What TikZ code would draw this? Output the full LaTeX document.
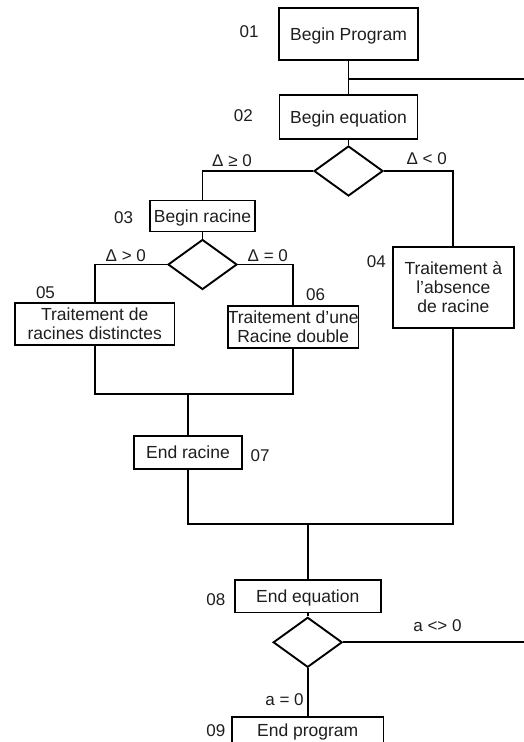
\documentclass[tikz,border=0pt]{standalone}
\usepackage{fontspec}
\setmainfont{Liberation Sans}
\usetikzlibrary{shapes.geometric}
\definecolor{txt}{RGB}{30,30,30}
\begin{document}
\begin{tikzpicture}[x=1pt,y=-1pt,
  box/.style={draw, rectangle, line width=1.9pt, inner sep=0pt, align=center,
    text=txt, font=\fontsize{17.5}{19.3}\selectfont},
  onebox/.style={box, text height=12.5pt, text depth=0pt},
  cond/.style={draw, diamond, line width=1.9pt, inner sep=0pt,
    minimum width=69pt, minimum height=50pt},
  num/.style={inner sep=0pt, text=txt, font=\fontsize{17}{19}\selectfont,
    text height=12.2pt, text depth=0pt},
  link/.style={line width=1.9pt}]
\clip (0,0) rectangle (524,742);
\fill[white] (0,0) rectangle (524,742);

% main column
\node[onebox, minimum width=139pt, minimum height=52pt] (bp) at (348.5,34.3) {Begin Program};
\node[onebox, minimum width=138pt, minimum height=44pt] (be) at (348.5,117) {Begin equation};
\node[cond] (d1) at (348.5,171) {};

% delta >= 0 branch
\node[onebox, minimum width=105pt, minimum height=31pt] (br) at (202.5,216) {Begin racine};
\node[cond] (d2) at (202.5,264.5) {};
\node[box, minimum width=159.5pt, minimum height=42pt] (t05) at (94.7,324) {Traitement de\\racines distinctes};
\node[box, minimum width=130pt, minimum height=42pt] (t06) at (293.2,326.9) {Traitement d’une\\Racine double};
\node[onebox, minimum width=108.5pt, minimum height=33.5pt] (er) at (188,452.5) {End racine};

% delta < 0 branch
\node[box, minimum width=121.5pt, minimum height=81.5pt] (t04) at (453.3,287.3) {Traitement à\\l’absence\\de racine};

% end of equation and program
\node[onebox, minimum width=146pt, minimum height=32.5pt] (ee) at (307.7,596.2) {End equation};
\node[cond] (d3) at (307.7,642.3) {};
\node[onebox, text depth=4pt, minimum width=151.5pt, minimum height=32pt] (ep) at (307.7,732.7) {End program};

% junction points and free ends
\coordinate (j1) at (348.5,79.3);
\coordinate (e1) at (530,79.3);
\coordinate (m1) at (188,394.3);
\coordinate (m2) at (307.7,524.3);
\coordinate (e2) at (530,642.3);

% connectors
\draw[link] (bp) -- (be);
\draw[link] (j1) -- (e1);
\draw[link] (be) -- (d1);
\draw[link] (d1.west) -| (br.north);
\draw[link] (d1.east) -| (t04.north);
\draw[link] (br) -- (d2);
\draw[link] (d2.west) -| (t05.north);
\draw[link] (d2.east) -| (t06.north);
\draw[link] (t05.south) |- (m1) -| (t06.south);
\draw[link] (m1) -- (er.north);
\draw[link] (er.south) |- (m2) -| (t04.south);
\draw[link] (m2) -- (ee.north);
\draw[link] (ee) -- (d3);
\draw[link] (d3.east) -- (e2);
\draw[link] (d3) -- (ep);

% step numbers and branch conditions
\node[num] (n01) at (249,31.8) {01};
\node[num] (n02) at (243.3,115.3) {02};
\node[num] (n03) at (123.7,217) {03};
\node[num] (n04) at (376.3,261.7) {04};
\node[num] (n05) at (45.5,292) {05};
\node[num] (n06) at (315.5,294.7) {06};
\node[num] (n07) at (260,455.5) {07};
\node[num] (n08) at (215.8,599.2) {08};
\node[num] (n09) at (215.8,730.3) {09};
\node[num] (c1) at (232,160.5) {Δ ≥ 0};
\node[num] (c2) at (426.7,158.7) {Δ < 0};
\node[num] (c3) at (125.8,255.3) {Δ > 0};
\node[num] (c4) at (267.8,255.3) {Δ = 0};
\node[num] (c5) at (437.5,625.8) {a <> 0};
\node[num] (c6) at (284.5,699.5) {a = 0};
\end{tikzpicture}
\end{document}
